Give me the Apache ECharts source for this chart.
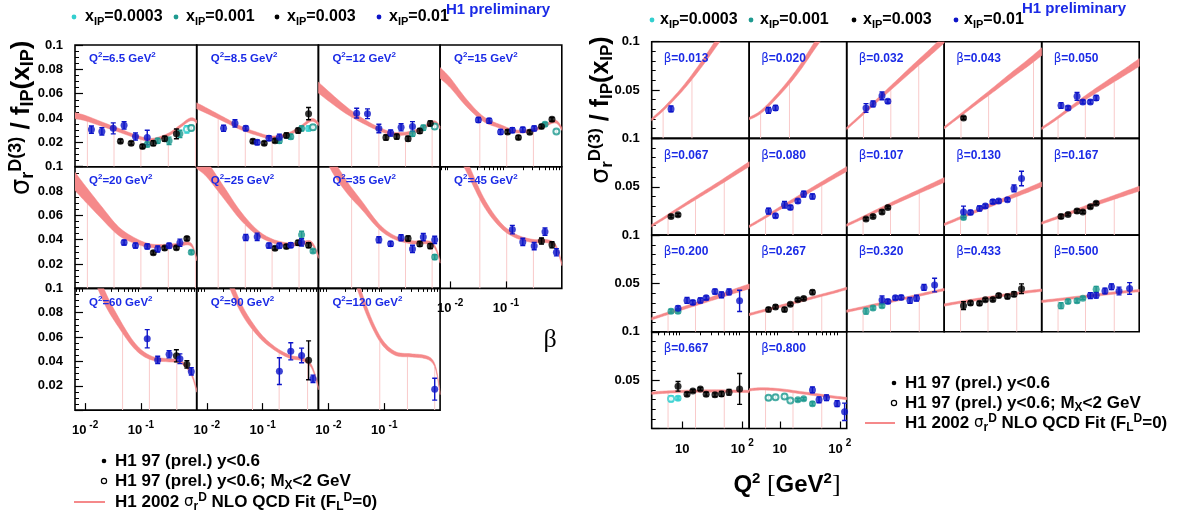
<!DOCTYPE html>
<html><head><meta charset="utf-8">
<script src="https://cdn.jsdelivr.net/npm/echarts@6/dist/echarts.min.js"></script>
<style>html,body{margin:0;padding:0;background:#fff}#c{width:1179px;height:521px}</style>
</head><body><div id="c"></div>
<script>
// ---------------- DATA ----------------
const Q2_LIST   = [6.5, 8.5, 12, 15, 20, 25, 35, 45, 60, 90, 120];
const BETA_LIST = [0.013, 0.020, 0.032, 0.043, 0.050, 0.067, 0.080, 0.107, 0.130, 0.167, 0.200, 0.267, 0.320, 0.433, 0.500, 0.667, 0.800];
const XIP_LABELS = ['0.0003', '0.001', '0.003', '0.01'];

// measurements: [beta, Q2, value, error]
const pts_xip0003    = [[0.667, 8.5, 0.0314, 0.002]];
const pts_xip0003_mx = [[0.667, 6.5, 0.0307, 0.003]];
const pts_xip001 = [
  [0.130, 6.5, 0.0183, 0.002],
  [0.200, 6.5, 0.0213, 0.002], [0.200, 8.5, 0.0213, 0.002],
  [0.320, 6.5, 0.0213, 0.003], [0.320, 8.5, 0.0247, 0.002], [0.320, 12, 0.027, 0.002],
  [0.500, 6.5, 0.027, 0.003], [0.500, 8.5, 0.0314, 0.002], [0.500, 12, 0.032, 0.002], [0.500, 15, 0.0348, 0.0015], [0.500, 25, 0.044, 0.003],
  [0.800, 20, 0.0297, 0.0015], [0.800, 25, 0.0307, 0.0015], [0.800, 35, 0.0257, 0.002]
];
const pts_xip001_mx = [[0.800, 6.5, 0.0318, 0.002], [0.800, 8.5, 0.0324, 0.002], [0.800, 12, 0.0331, 0.002], [0.800, 15, 0.029, 0.0015]];
const pts_xip003 = [
  [0.043, 6.5, 0.021, 0.0015],
  [0.067, 6.5, 0.0193, 0.0015], [0.067, 8.5, 0.021, 0.0015],
  [0.107, 6.5, 0.0166, 0.0015], [0.107, 8.5, 0.0193, 0.0015], [0.107, 12, 0.024, 0.002], [0.107, 15, 0.0286, 0.0015],
  [0.167, 6.5, 0.0193, 0.002], [0.167, 8.5, 0.0214, 0.0015], [0.167, 12, 0.0248, 0.002], [0.167, 15, 0.024, 0.0015], [0.167, 20, 0.0293, 0.0015], [0.167, 25, 0.033, 0.0015],
  [0.267, 6.5, 0.023, 0.002], [0.267, 8.5, 0.0257, 0.002], [0.267, 12, 0.023, 0.002], [0.267, 15, 0.0284, 0.0015], [0.267, 20, 0.0331, 0.0015], [0.267, 25, 0.0345, 0.0015], [0.267, 35, 0.041, 0.002],
  [0.433, 6.5, 0.027, 0.004], [0.433, 8.5, 0.0297, 0.002], [0.433, 12, 0.0294, 0.002], [0.433, 15, 0.0331, 0.0015], [0.433, 20, 0.0334, 0.0015], [0.433, 25, 0.0375, 0.002], [0.433, 35, 0.0365, 0.002], [0.433, 45, 0.0389, 0.0025], [0.433, 60, 0.0446, 0.005],
  [0.667, 8.5, 0.0436, 0.005], [0.667, 12, 0.0355, 0.002], [0.667, 15, 0.0389, 0.0015], [0.667, 20, 0.0409, 0.0015], [0.667, 25, 0.0355, 0.002], [0.667, 35, 0.0348, 0.002], [0.667, 45, 0.0358, 0.0025], [0.667, 60, 0.0375, 0.003], [0.667, 90, 0.0409, 0.016]
];
const pts_xip01 = [
  [0.013, 6.5, 0.0305, 0.003],
  [0.020, 6.5, 0.029, 0.003], [0.020, 8.5, 0.0315, 0.0025],
  [0.032, 6.5, 0.0315, 0.0045], [0.032, 8.5, 0.0356, 0.003], [0.032, 12, 0.044, 0.004], [0.032, 15, 0.0384, 0.002],
  [0.050, 6.5, 0.034, 0.003], [0.050, 8.5, 0.0315, 0.002], [0.050, 12, 0.0435, 0.004], [0.050, 15, 0.0377, 0.002], [0.050, 20, 0.0377, 0.002], [0.050, 25, 0.0418, 0.0025],
  [0.080, 6.5, 0.0248, 0.003], [0.080, 8.5, 0.020, 0.002], [0.080, 12, 0.0314, 0.0035], [0.080, 15, 0.0286, 0.002], [0.080, 20, 0.0352, 0.002], [0.080, 25, 0.0424, 0.003], [0.080, 35, 0.040, 0.0025],
  [0.130, 6.5, 0.024, 0.006], [0.130, 8.5, 0.0234, 0.002], [0.130, 12, 0.0276, 0.0025], [0.130, 15, 0.030, 0.002], [0.130, 20, 0.0345, 0.002], [0.130, 25, 0.0352, 0.002], [0.130, 35, 0.0366, 0.002], [0.130, 45, 0.0483, 0.0035], [0.130, 60, 0.0586, 0.0075],
  [0.200, 8.5, 0.0243, 0.0025], [0.200, 12, 0.0324, 0.003], [0.200, 15, 0.0304, 0.002], [0.200, 20, 0.0324, 0.0025], [0.200, 25, 0.0351, 0.002], [0.200, 35, 0.0416, 0.0025], [0.200, 45, 0.0382, 0.003], [0.200, 60, 0.0412, 0.003], [0.200, 90, 0.032, 0.011],
  [0.320, 12, 0.033, 0.004], [0.320, 15, 0.0314, 0.002], [0.320, 20, 0.0351, 0.002], [0.320, 25, 0.0355, 0.002], [0.320, 35, 0.0324, 0.003], [0.320, 45, 0.0348, 0.003], [0.320, 60, 0.0459, 0.003], [0.320, 90, 0.0483, 0.007],
  [0.500, 20, 0.0375, 0.003], [0.500, 25, 0.0378, 0.003], [0.500, 35, 0.0422, 0.003], [0.500, 45, 0.0466, 0.003], [0.500, 60, 0.0422, 0.004], [0.500, 90, 0.0449, 0.006],
  [0.800, 35, 0.0399, 0.003], [0.800, 45, 0.0297, 0.003], [0.800, 60, 0.0318, 0.003], [0.800, 90, 0.0257, 0.003], [0.800, 120, 0.0172, 0.009]
];

// NLO QCD fit, left plot: centre value vs beta, one array per Q2 bin
const FIT_BETA = [0.0066, 0.01, 0.02, 0.04, 0.08, 0.15, 0.3, 0.5, 0.7, 0.85, 1.0];
const fitQ2_6p5 = [0.042, 0.040, 0.035, 0.030, 0.025, 0.022, 0.026, 0.033, 0.038, 0.039, 0.037];
const fitQ2_8p5 = [0.050, 0.046, 0.039, 0.032, 0.027, 0.024, 0.027, 0.033, 0.038, 0.038, 0.035];
const fitQ2_12  = [0.065, 0.058, 0.047, 0.038, 0.031, 0.027, 0.028, 0.032, 0.036, 0.036, 0.032];
const fitQ2_15  = [0.077, 0.069, 0.052, 0.039, 0.033, 0.029, 0.030, 0.034, 0.037, 0.036, 0.031];
const fitQ2_20  = [0.088, 0.078, 0.062, 0.047, 0.039, 0.035, 0.035, 0.036, 0.037, 0.034, 0.024];
const fitQ2_25  = [0.106, 0.098, 0.079, 0.060, 0.046, 0.039, 0.036, 0.037, 0.038, 0.034, 0.026];
const fitQ2_35  = [0.135, 0.108, 0.085, 0.068, 0.051, 0.042, 0.038, 0.038, 0.037, 0.032, 0.022];
const fitQ2_45  = [0.160, 0.130, 0.100, 0.071, 0.052, 0.043, 0.039, 0.039, 0.037, 0.031, 0.020];
const fitQ2_60  = [0.200, 0.140, 0.098, 0.072, 0.052, 0.043, 0.041, 0.040, 0.034, 0.027, 0.016];
const fitQ2_90  = [0.240, 0.170, 0.120, 0.085, 0.064, 0.052, 0.044, 0.042, 0.038, 0.030, 0.018];
const fitQ2_120 = [0.280, 0.200, 0.140, 0.092, 0.060, 0.047, 0.045, 0.044, 0.041, 0.033, 0.014];
// band half-widths (left)
const hwL_a = [0.0025, 0.0022, 0.0018, 0.0015, 0.0013, 0.0012, 0.0012, 0.0012, 0.0012, 0.0012, 0.0012];
const hwL_b = [0.0045, 0.0040, 0.0030, 0.0020, 0.0015, 0.0012, 0.0012, 0.0012, 0.0012, 0.0012, 0.0012];
const hwL_c = [0.0075, 0.0065, 0.0050, 0.0035, 0.0022, 0.0015, 0.0013, 0.0013, 0.0013, 0.0013, 0.0013];
const hwL_d = [0.0090, 0.0080, 0.0060, 0.0040, 0.0025, 0.0016, 0.0013, 0.0013, 0.0013, 0.0013, 0.0013];

// NLO QCD fit, right plot: centre value vs Q2, one array per beta bin
const FIT_Q2 = [3.1, 5, 10, 20, 40, 80, 130];
const fitB_013 = [0.0195, 0.031, 0.051, 0.075, 0.102, 0.130, 0.150];
const fitB_020 = [0.0205, 0.028, 0.047, 0.070, 0.098, 0.125, 0.145];
const fitB_032 = [0.0103, 0.022, 0.0394, 0.0565, 0.0736, 0.0904, 0.1027];
const fitB_043 = [0.011, 0.021, 0.0356, 0.050, 0.0647, 0.079, 0.0897];
const fitB_050 = [0.0103, 0.019, 0.0326, 0.0456, 0.0578, 0.0698, 0.0785];
const fitB_067 = [0.0097, 0.0177, 0.0297, 0.0414, 0.053, 0.065, 0.0734];
const fitB_080 = [0.009, 0.0165, 0.0277, 0.0387, 0.0497, 0.0606, 0.0683];
const fitB_107 = [0.0103, 0.0163, 0.0253, 0.034, 0.0425, 0.051, 0.057];
const fitB_130 = [0.011, 0.0163, 0.0243, 0.032, 0.0395, 0.047, 0.0525];
const fitB_167 = [0.0124, 0.017, 0.0238, 0.0305, 0.037, 0.0435, 0.048];
const fitB_200 = [0.0135, 0.0178, 0.0241, 0.0303, 0.0365, 0.0427, 0.047];
const fitB_267 = [0.0179, 0.0213, 0.0263, 0.0312, 0.0362, 0.0411, 0.0449];
const fitB_320 = [0.0213, 0.0241, 0.0283, 0.0325, 0.0366, 0.0408, 0.0437];
const fitB_433 = [0.0277, 0.030, 0.033, 0.036, 0.039, 0.0415, 0.043];
const fitB_500 = [0.0314, 0.0328, 0.035, 0.0372, 0.0395, 0.0415, 0.0425];
const fitB_667 = [0.0365, 0.0375, 0.0383, 0.0387, 0.0388, 0.0385, 0.0383];
const fitB_800 = [0.040, 0.041, 0.040, 0.0375, 0.035, 0.0325, 0.031];
const hwR_a = [0.0012, 0.0016, 0.0022, 0.003, 0.004, 0.005, 0.006];
const hwR_b = [0.0012, 0.0014, 0.0018, 0.0024, 0.003, 0.0035, 0.004];
const hwR_c = [0.0012, 0.0013, 0.0015, 0.0018, 0.002, 0.0023, 0.0025];
const hwR_d = [0.0012, 0.0012, 0.0012, 0.0012, 0.0012, 0.0012, 0.0012];

// faint vertical fit-grid lines (positions on the x axis of each panel)
const vlinesQ2 = [[0.011,0.033,0.1,0.31,0.95],[0.016,0.049,0.148,0.45],[0.026,0.08,0.24,0.72],[0.034,0.103,0.31],
                  [0.011,0.033,0.1,0.31,0.95],[0.016,0.049,0.148,0.45],[0.026,0.08,0.24,0.72],[0.034,0.103,0.31],
                  [0.047,0.142,0.44],[0.066,0.198,0.64],[0.083,0.26,0.8]];
const vlinesBeta = [[4.8,14.5],[4.8,14.5],[5.9,16.8,49],[5.9,17,95],[5.8,16.5,50],
                    [5.8,16.6,50],[5.8,16.6,50],[5.8,16.6,50],[5.8,16.6,50],[5.8,16.6,50],
                    [5.8,16.6,50],[5.8,16.6,50],[5.8,16.6,50],[5.8,16.6,50],[5.8,16.6,50],
                    [5.8,16.6,50],[5.8,16.6,50]];

// axis ticks
const BETA_MAJOR = [0.01, 0.1];
const BETA_MINOR = [0.007,0.008,0.009,0.02,0.03,0.04,0.05,0.06,0.07,0.08,0.09,0.2,0.3,0.4,0.5,0.6,0.7,0.8,0.9];
const Q2_MAJOR = [10, 100];
const Q2_MINOR = [4,5,6,7,8,9,20,30,40,50,60,70,80,90];

// ---------------- STYLE / LAYOUT ----------------
const FONT = 'Liberation Sans';
const PINK = '#f5898a', VPINK = '#f9caca';
const PT_COLORS = ['#33cfcf', '#1f9a90', '#000000', '#0d14c8'];
const TXT_BLUE = '#1a2ae6';

const series_defs = [
  {pts: pts_xip0003, c: 0, open: false}, {pts: pts_xip0003_mx, c: 0, open: true},
  {pts: pts_xip001, c: 1, open: false}, {pts: pts_xip001_mx, c: 1, open: true},
  {pts: pts_xip003, c: 2, open: false}, {pts: pts_xip01, c: 3, open: false}
];

function rich(size, color) {
  const s = Math.round(size * 0.68);
  const b = {fontFamily: FONT, fontWeight: 'bold', color: color, fill: color};
  return {
    a: Object.assign({}, b, {fontSize: size, lineHeight: size + 4, verticalAlign: 'middle'}),
    u: Object.assign({}, b, {fontSize: s, lineHeight: s + 1, verticalAlign: 'top'}),
    d: Object.assign({}, b, {fontSize: s, lineHeight: s + 1, verticalAlign: 'bottom'}),
    g: {fontFamily: 'DejaVu Sans', fontSize: size, color: color, fill: color, lineHeight: size + 4, verticalAlign: 'middle'},
    gs: {fontFamily: 'DejaVu Sans', fontSize: s + 3, color: color, fill: color, lineHeight: s + 4, verticalAlign: 'middle'}
  };
}

// Catmull-Rom resampling of a curve given on a few points (x on log scale)
function resample(xs, ys, n) {
  const lx = xs.map(v => Math.log10(v));
  const out = [];
  const N = xs.length;
  for (let i = 0; i < N - 1; i++) {
    const i0 = Math.max(0, i - 1), i3 = Math.min(N - 1, i + 2);
    for (let k = 0; k < n; k++) {
      const t = k / n;
      const cr = (p0, p1, p2, p3) => 0.5 * ((2 * p1) + (-p0 + p2) * t + (2 * p0 - 5 * p1 + 4 * p2 - p3) * t * t + (-p0 + 3 * p1 - 3 * p2 + p3) * t * t * t);
      out.push([Math.pow(10, cr(lx[i0], lx[i], lx[i + 1], lx[i3])), cr(ys[i0], ys[i], ys[i + 1], ys[i3])]);
    }
  }
  out.push([xs[N - 1], ys[N - 1]]);
  return out;
}
function interpDense(dense, x) {
  const lx = Math.log10(x);
  for (let i = 0; i < dense.length - 1; i++) {
    const a = Math.log10(dense[i][0]), b = Math.log10(dense[i + 1][0]);
    if (lx >= a && lx <= b) return dense[i][1] + (dense[i + 1][1] - dense[i][1]) * (lx - a) / (b - a);
  }
  return dense[dense.length - 1][1];
}

const option = {animation: false, backgroundColor: '#fff', grid: [], xAxis: [], yAxis: [], series: [], graphic: {elements: []}};
const G = option.graphic.elements;

function fmtY(v) {
  if (Math.abs(v) < 1e-9) return '';
  if (Math.abs(v - 0.1) < 1e-9) return '0.1';
  return v.toFixed(2);
}
const AXRICH = {
  b: {fontFamily: FONT, fontWeight: 'bold', fontSize: 13, color: '#000', lineHeight: 17, verticalAlign: 'bottom'},
  s: {fontFamily: FONT, fontWeight: 'bold', fontSize: 10, color: '#000', lineHeight: 10, verticalAlign: 'top', padding: [0, 0, 0, 3]}
};

function addPanel(p) {
  const g = option.grid.length;
  option.grid.push({left: p.x, top: p.y, width: p.w, height: p.h, show: true, borderColor: '#000', borderWidth: 1.6,
    backgroundColor: 'rgba(0,0,0,0)', containLabel: false, outerBoundsMode: 'none'});
  const xi = option.xAxis.length;
  option.xAxis.push({type: 'log', logBase: 10, gridIndex: g, min: p.xmin, max: p.xmax,
    axisLine: {show: false}, splitLine: {show: false},
    axisTick: {show: p.showX, inside: true, length: 7, lineStyle: {color: '#000', width: 1.2}, customValues: p.major},
    axisLabel: {show: p.showX, customValues: p.major, formatter: p.fmtX, margin: 10, rich: AXRICH}});
  if (p.showX) {
    option.xAxis.push({type: 'log', logBase: 10, gridIndex: g, min: p.xmin, max: p.xmax,
      axisLine: {show: false}, splitLine: {show: false}, axisLabel: {show: false},
      axisTick: {show: true, inside: true, length: 3.5, lineStyle: {color: '#000', width: 1}, customValues: p.minor}});
  }
  const yi = option.yAxis.length;
  option.yAxis.push({type: 'value', gridIndex: g, min: 0, max: 0.1, interval: p.yInt,
    axisLine: {show: false}, splitLine: {show: false},
    axisTick: {show: p.showY, inside: true, length: 8, lineStyle: {color: '#000', width: 1.2}},
    minorTick: {show: p.showY, splitNumber: p.yMinor, length: 4, lineStyle: {color: '#000', width: 1}},
    axisLabel: {show: p.showY, formatter: fmtY, margin: 12, fontFamily: FONT, fontWeight: 'bold', fontSize: 13, color: '#000'}});

  // fit band (polygon between lower and upper edges)
  const upper = resample(p.fitX, p.fitC.map((c, i) => c + p.fitHW[i]), 8);
  const lower = resample(p.fitX, p.fitC.map((c, i) => c - p.fitHW[i]), 8);
  option.series.push({type: 'custom', xAxisIndex: xi, yAxisIndex: yi, data: [[p.fitX[0], 0]], clip: true, silent: true, z: 1,
    encode: {x: 0, y: 1},
    renderItem: (params, api) => {
      const pts = upper.map(d => api.coord(d)).concat(lower.slice().reverse().map(d => api.coord(d)));
      return {type: 'polygon', shape: {points: pts}, style: {fill: PINK, stroke: PINK, lineWidth: 0.5}};
    }});

  // faint vertical lines from bottom up to the band
  const vl = p.vlines.map(x => [x, Math.min(0.1, interpDense(lower, x))]);
  option.series.push({type: 'custom', xAxisIndex: xi, yAxisIndex: yi, data: vl, clip: true, silent: true, z: 0,
    encode: {x: 0, y: 1},
    renderItem: (params, api) => {
      const a = api.coord([api.value(0), 0]), b = api.coord([api.value(0), api.value(1)]);
      return {type: 'line', shape: {x1: a[0], y1: a[1], x2: b[0], y2: b[1]}, style: {stroke: VPINK, lineWidth: 1}};
    }});

  // points + error bars
  const errData = [], scData = [];
  series_defs.forEach(sd => {
    sd.pts.forEach(r => {
      if (!p.match(r)) return;
      const x = p.pickX(r);
      errData.push([x, r[2], r[3], sd.c]);
      scData.push({value: [x, r[2]], symbol: sd.open ? 'emptyCircle' : 'circle', symbolSize: sd.open ? 6 : 7,
        itemStyle: sd.open ? {color: PT_COLORS[sd.c], borderColor: PT_COLORS[sd.c], borderWidth: 1.5} : {color: PT_COLORS[sd.c]}});
    });
  });
  option.series.push({type: 'custom', xAxisIndex: xi, yAxisIndex: yi, data: errData, clip: true, silent: true, z: 3,
    encode: {x: 0, y: 1},
    renderItem: (params, api) => {
      const x = api.value(0), y = api.value(1), e = api.value(2), c = PT_COLORS[api.value(3)];
      const a = api.coord([x, y - e]), b = api.coord([x, y + e]);
      const st = {stroke: c, lineWidth: 1.4};
      return {type: 'group', children: [
        {type: 'line', shape: {x1: a[0], y1: a[1], x2: b[0], y2: b[1]}, style: st},
        {type: 'line', shape: {x1: a[0] - 2.5, y1: a[1], x2: a[0] + 2.5, y2: a[1]}, style: st},
        {type: 'line', shape: {x1: b[0] - 2.5, y1: b[1], x2: b[0] + 2.5, y2: b[1]}, style: st}
      ]};
    }});
  option.series.push({type: 'scatter', xAxisIndex: xi, yAxisIndex: yi, data: scData, silent: true, z: 4, clip: true});

  // panel label
  G.push({type: 'text', x: p.x + p.lx, y: p.y + p.ly, z: 50, silent: true,
    style: {text: p.label, rich: rich(p.lsize, TXT_BLUE), fill: TXT_BLUE, align: 'left', verticalAlign: 'middle'}});
}

// ---- left plot: sigma vs beta in Q2 bins ----
const FITS_L = [fitQ2_6p5, fitQ2_8p5, fitQ2_12, fitQ2_15, fitQ2_20, fitQ2_25, fitQ2_35, fitQ2_45, fitQ2_60, fitQ2_90, fitQ2_120];
const HW_L = [hwL_a, hwL_a, hwL_b, hwL_b, hwL_c, hwL_c, hwL_c, hwL_c, hwL_d, hwL_d, hwL_d];
const L0 = 75, T0 = 45, LW = 121.7, LH = 121.7;
Q2_LIST.forEach((q, i) => {
  const row = Math.floor(i / 4), col = i % 4;
  addPanel({x: L0 + col * LW, y: T0 + row * LH, w: LW, h: LH,
    xmin: 0.0066, xmax: 1.0, major: BETA_MAJOR, minor: BETA_MINOR,
    fmtX: v => '{b|10}{s|' + Math.round(Math.log10(v)) + '}',
    showX: row === 2 || i === 7, showY: col === 0, yInt: 0.02, yMinor: 4,
    fitX: FIT_BETA, fitC: FITS_L[i], fitHW: HW_L[i], vlines: vlinesQ2[i],
    match: r => r[1] === q, pickX: r => r[0],
    label: '{a|Q}{u|2}{a|=' + q + ' GeV}{u|2}', lx: 14, ly: 14, lsize: 11.5});
});

// ---- right plot: sigma vs Q2 in beta bins ----
const FITS_R = [fitB_013, fitB_020, fitB_032, fitB_043, fitB_050, fitB_067, fitB_080, fitB_107, fitB_130, fitB_167,
                fitB_200, fitB_267, fitB_320, fitB_433, fitB_500, fitB_667, fitB_800];
const HW_R = [hwR_a, hwR_a, hwR_b, hwR_b, hwR_b, hwR_c, hwR_c, hwR_c, hwR_c, hwR_c, hwR_c, hwR_d, hwR_d, hwR_d, hwR_d, hwR_d, hwR_d];
const R0 = 651.7, RT0 = 41.7, RW = 97.5, RH = 96.7;
BETA_LIST.forEach((b, i) => {
  const row = Math.floor(i / 5), col = i % 5;
  addPanel({x: R0 + col * RW, y: RT0 + row * RH, w: RW, h: RH,
    xmin: 3.1, xmax: 130, major: Q2_MAJOR, minor: Q2_MINOR,
    fmtX: v => v < 50 ? '{b|10}' : '{b|10}{s|2}',
    showX: row === 3, showY: col === 0, yInt: 0.05, yMinor: 5,
    fitX: FIT_Q2, fitC: FITS_R[i], fitHW: HW_R[i], vlines: vlinesBeta[i],
    match: r => r[0] === b, pickX: r => r[1],
    label: '{g|\u03b2}{a|=' + b.toFixed(3) + '}', lx: 12, ly: 17, lsize: 12});
});

// ---------------- TEXTS ----------------
function txt(x, y, text, size, color, align, rot) {
  G.push({type: 'text', x: x, y: y, rotation: rot || 0, z: 60, silent: true,
    style: {text: text, rich: rich(size, color), fill: color, align: align || 'left', verticalAlign: 'middle'}});
}
function dot(x, y, r, color, open) {
  G.push({type: 'circle', z: 60, silent: true, shape: {cx: x, cy: y, r: r},
    style: open ? {fill: '#fff', stroke: color, lineWidth: 1.2} : {fill: color}});
}
// H1 preliminary
txt(446, 10, '{a|H1 preliminary}', 15, TXT_BLUE);
txt(1022, 9, '{a|H1 preliminary}', 15, TXT_BLUE);
// x_IP legends
const LEG_L = [[74, 85], [176, 186], [277, 287], [379, 389]];
const LEG_R = [[652, 660], [751, 760], [854, 863], [956, 964]];
XIP_LABELS.forEach((l, i) => {
  dot(LEG_L[i][0], 17, 2.4, PT_COLORS[i]);
  txt(LEG_L[i][1], 17, '{a|x}{d|IP}{a|=' + l + '}', 16, '#000');
  dot(LEG_R[i][0], 20, 2.4, PT_COLORS[i]);
  txt(LEG_R[i][1], 20, '{a|x}{d|IP}{a|=' + l + '}', 16, '#000');
});
// y titles
const YT = '{g|\u03c3}{d|r}{u|D(3)}{a| / f}{d|IP}{a|(x}{d|IP}{a|)}';
txt(22, 118, YT, 26, '#000', 'center', Math.PI / 2);
txt(601, 110, YT, 25, '#000', 'center', Math.PI / 2);
// x titles
G.push({type: 'text', x: 550, y: 340, z: 60, silent: true,
  style: {text: '\u03b2', font: '26px "Liberation Serif"', fill: '#000', align: 'center', verticalAlign: 'middle'}});
G.push({type: 'text', x: 787, y: 485, z: 60, silent: true,
  style: {text: '{q|Q}{qs|2}{br| [}{q|GeV}{qs|2}{br|]}', align: 'center', verticalAlign: 'middle',
    rich: {q: {fontFamily: FONT, fontWeight: 'bold', fontSize: 24, lineHeight: 28, verticalAlign: 'middle', fill: '#000'},
           qs: {fontFamily: FONT, fontWeight: 'bold', fontSize: 15, lineHeight: 16, verticalAlign: 'top', fill: '#000'},
           br: {fontFamily: 'Liberation Serif', fontSize: 26, lineHeight: 28, verticalAlign: 'middle', fill: '#000'}}}});
// data / fit legends
function legendBlock(x0, lineX0, lineX1, ys) {
  dot(x0, ys[0], 2.3, '#000');
  txt(x0 + 11, ys[0], '{a|H1 97 (prel.) y<0.6}', 17, '#000');
  dot(x0, ys[1], 2.6, '#000', true);
  txt(x0 + 11, ys[1], '{a|H1 97 (prel.) y<0.6; M}{d|X}{a|<2 GeV}', 17, '#000');
  G.push({type: 'line', z: 60, silent: true, shape: {x1: lineX0, y1: ys[2], x2: lineX1, y2: ys[2]}, style: {stroke: PINK, lineWidth: 2}});
  txt(x0 + 11, ys[2], '{a|H1 2002 }{gs|\u03c3}{d|r}{u|D}{a| NLO QCD Fit (F}{d|L}{u|D}{a|=0)}', 17, '#000');
}
legendBlock(104, 74, 105, [461, 481, 502]);
legendBlock(894, 865, 895, [383, 403, 423]);

const chart = echarts.init(document.getElementById('c'), null, {renderer: 'canvas', width: 1179, height: 521});
chart.setOption(option);
</script></body></html>
